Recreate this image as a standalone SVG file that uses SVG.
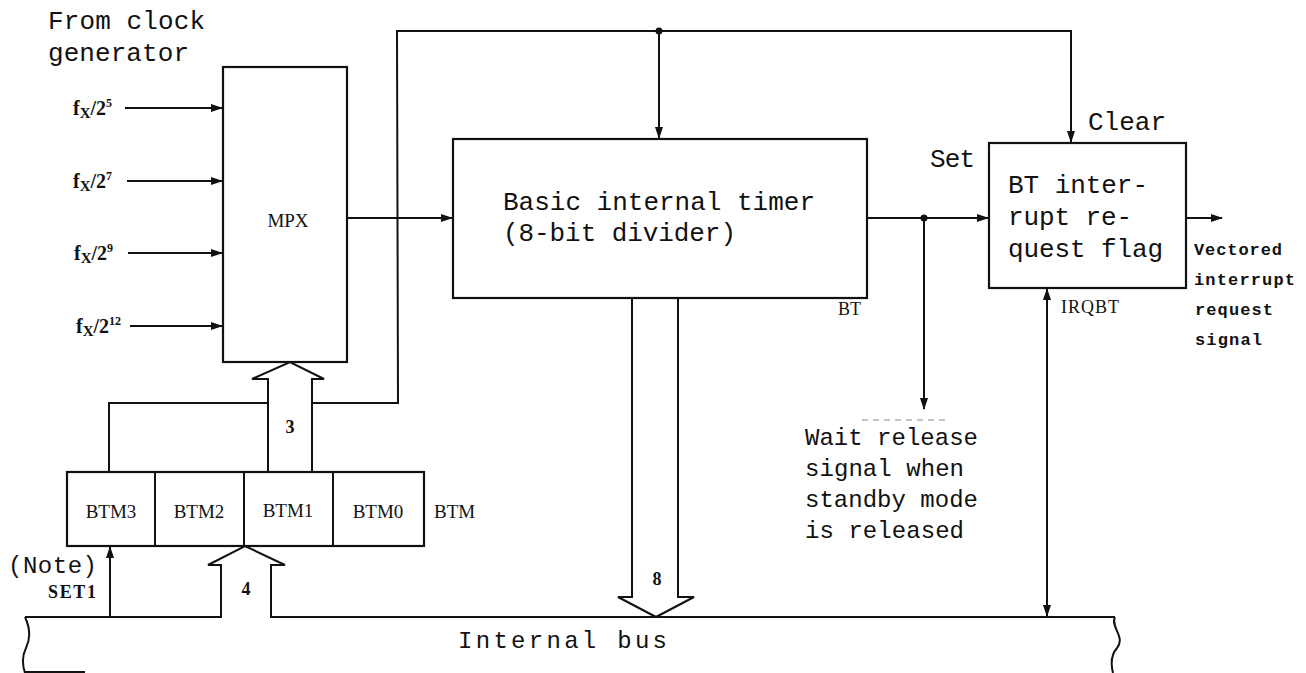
<svg xmlns="http://www.w3.org/2000/svg" width="1306" height="673" viewBox="0 0 1306 673">
<style>
.ln{stroke:#111;stroke-width:2;fill:none}
.box{stroke:#111;stroke-width:2.2;fill:#fff}
.mono{font-family:"Liberation Mono","DejaVu Sans Mono",monospace;fill:#111}
.m24{font-size:26px}
.m20{font-size:24px}
.mb{font-family:"Liberation Mono","DejaVu Sans Mono",monospace;font-weight:bold;font-size:17px;fill:#111}
.ser{font-family:"Liberation Serif","DejaVu Serif",serif;fill:#111}
.sb{font-family:"Liberation Serif","DejaVu Serif",serif;font-weight:bold;fill:#111;font-size:18px}
.fx{font-family:"Liberation Serif","DejaVu Serif",serif;font-weight:bold;fill:#111;font-size:20px}
</style>
<defs>
<marker id="ah" markerWidth="12" markerHeight="8" refX="11" refY="4" orient="auto" markerUnits="userSpaceOnUse">
<path d="M0,0 L12,4 L0,8 z" fill="#111"/>
</marker>
<marker id="ahs" markerWidth="12" markerHeight="8" refX="1" refY="4" orient="auto" markerUnits="userSpaceOnUse">
<path d="M12,0 L0,4 L12,8 z" fill="#111"/>
</marker>
</defs>

<text class="mono m24" x="48" y="29" textLength="157" lengthAdjust="spacing">From clock</text>
<text class="mono m24" x="48" y="61" textLength="141" lengthAdjust="spacing">generator</text>

<g id="inputs">
<text class="fx" x="73" y="115">f<tspan font-size="15" dy="3">X</tspan><tspan dy="-3">/2</tspan><tspan font-size="12" dy="-8">5</tspan></text>
<text class="fx" x="73" y="188">f<tspan font-size="15" dy="3">X</tspan><tspan dy="-3">/2</tspan><tspan font-size="12" dy="-8">7</tspan></text>
<text class="fx" x="74" y="260">f<tspan font-size="15" dy="3">X</tspan><tspan dy="-3">/2</tspan><tspan font-size="12" dy="-8">9</tspan></text>
<text class="fx" x="76" y="333">f<tspan font-size="15" dy="3">X</tspan><tspan dy="-3">/2</tspan><tspan font-size="12" dy="-8">12</tspan></text>
</g>

<g id="mpx">
<rect class="box" x="223" y="67" width="124" height="295"/>
<text class="ser" x="288" y="227" font-size="19" text-anchor="middle">MPX</text>
</g>

<g id="bt">
<rect class="box" x="453" y="139" width="414" height="159"/>
<text class="mono m24" x="503" y="210" textLength="312" lengthAdjust="spacing">Basic internal timer</text>
<text class="mono m24" x="503" y="241" textLength="233" lengthAdjust="spacing">(8-bit divider)</text>
<text class="ser" x="838" y="315" font-size="18">BT</text>
</g>

<g id="flag">
<rect class="box" x="989" y="143" width="197" height="145"/>
<text class="mono m24" x="1008" y="193" textLength="140" lengthAdjust="spacing">BT inter-</text>
<text class="mono m24" x="1008" y="225" textLength="124" lengthAdjust="spacing">rupt re-</text>
<text class="mono m24" x="1008" y="257" textLength="155" lengthAdjust="spacing">quest flag</text>
<text class="mono m24" x="930" y="167" textLength="45" lengthAdjust="spacing">Set</text>
<text class="mono m24" x="1088" y="130" textLength="78" lengthAdjust="spacing">Clear</text>
<text class="ser" x="1061" y="313" font-size="18" textLength="58" lengthAdjust="spacing">IRQBT</text>
</g>

<g id="btm">
<rect class="box" x="67" y="472" width="357" height="74"/>
<line class="ln" x1="155" y1="472" x2="155" y2="546"/>
<line class="ln" x1="244" y1="472" x2="244" y2="546"/>
<line class="ln" x1="333" y1="472" x2="333" y2="546"/>
<text class="ser" x="111" y="518" font-size="19" text-anchor="middle">BTM3</text>
<text class="ser" x="199" y="518" font-size="19" text-anchor="middle">BTM2</text>
<text class="ser" x="288" y="517" font-size="19" text-anchor="middle">BTM1</text>
<text class="ser" x="378" y="518" font-size="19" text-anchor="middle">BTM0</text>
<text class="ser" x="434" y="518" font-size="19">BTM</text>
</g>

<g id="labels">
<text class="mono m20" x="8" y="573" textLength="89" lengthAdjust="spacing">(Note)</text>
<text class="sb" x="48" y="598" textLength="48" lengthAdjust="spacing">SET1</text>
<text class="sb" x="290" y="433" text-anchor="middle">3</text>
<text class="sb" x="246" y="595" text-anchor="middle">4</text>
<text class="sb" x="657" y="585" text-anchor="middle">8</text>
<text class="mono m20" x="805" y="445" textLength="173" lengthAdjust="spacing">Wait release</text>
<text class="mono m20" x="805" y="476" textLength="159" lengthAdjust="spacing">signal when</text>
<text class="mono m20" x="805" y="507" textLength="173" lengthAdjust="spacing">standby mode</text>
<text class="mono m20" x="805" y="538" textLength="159" lengthAdjust="spacing">is released</text>
<text class="mb" x="1194" y="255" textLength="88" lengthAdjust="spacing">Vectored</text>
<text class="mb" x="1194" y="285" textLength="101" lengthAdjust="spacing">interrupt</text>
<text class="mb" x="1195" y="315" textLength="78" lengthAdjust="spacing">request</text>
<text class="mb" x="1195" y="345" textLength="67" lengthAdjust="spacing">signal</text>
<text class="mono m20" x="458" y="648" textLength="209" lengthAdjust="spacing">Internal bus</text>
</g>

<g id="connectors">
<line class="ln" x1="125" y1="108" x2="222" y2="108" marker-end="url(#ah)"/>
<line class="ln" x1="127" y1="181" x2="222" y2="181" marker-end="url(#ah)"/>
<line class="ln" x1="128" y1="253" x2="222" y2="253" marker-end="url(#ah)"/>
<line class="ln" x1="130" y1="326" x2="222" y2="326" marker-end="url(#ah)"/>
<line class="ln" x1="347" y1="218" x2="452" y2="218" marker-end="url(#ah)"/>
<polyline class="ln" points="109,472 109,403 268,403"/>
<polyline class="ln" points="312,403 398,403 397,31 1071,31 1071,142" marker-end="url(#ah)"/>
<line class="ln" x1="659" y1="31" x2="659" y2="138" marker-end="url(#ah)"/>
<circle cx="659" cy="31" r="3.5" fill="#111"/>
<polygon class="ln" fill="#fff" points="268,472 268,379 252,379 290,362 324,379 312,379 312,472"/>
<line class="ln" x1="867" y1="218" x2="988" y2="218" marker-end="url(#ah)"/>
<circle cx="924" cy="218" r="3.5" fill="#111"/>
<line class="ln" x1="924" y1="218" x2="924" y2="409" marker-end="url(#ah)"/>
<line x1="862" y1="420" x2="950" y2="420" stroke="#888" stroke-width="1" stroke-dasharray="6,5"/>
<line class="ln" x1="1186" y1="218" x2="1222" y2="218" marker-end="url(#ah)"/>
<line class="ln" x1="1047" y1="289" x2="1047" y2="616" marker-start="url(#ahs)" marker-end="url(#ah)"/>
<polygon class="ln" fill="#fff" points="632,298 632,597 618,597 656,617 694,597 678,597 678,298"/>
<polyline class="ln" points="25,617 221,617 221,565 208,565 245,546 285,565 271,565 271,617 1115,617"/>
<line class="ln" x1="110" y1="617" x2="110" y2="547" marker-end="url(#ah)"/>
<path class="ln" d="M25,617 C31,630 30,640 26,648 C22,656 22,664 25,673"/>
<path class="ln" d="M1115,617 C1110,627 1126,637 1117,648 C1110,656 1111,665 1113,673"/>
<line class="ln" x1="25" y1="672" x2="85" y2="672"/>
</g>
</svg>
